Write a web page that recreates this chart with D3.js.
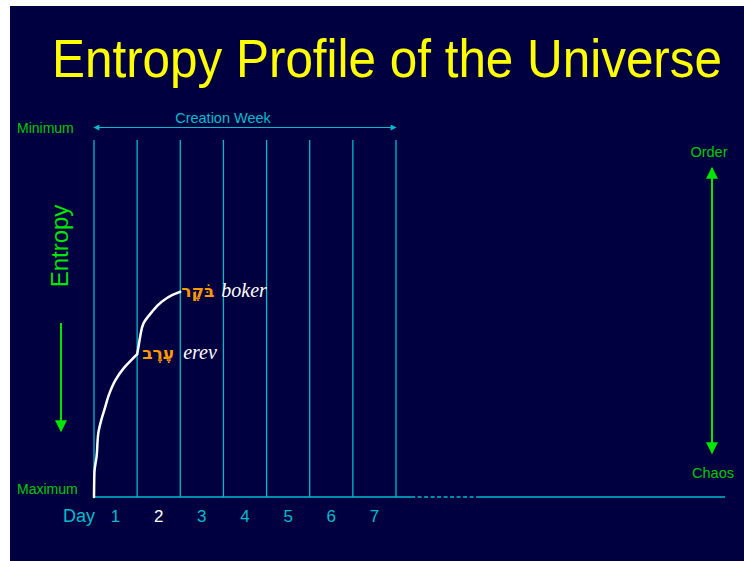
<!DOCTYPE html>
<html>
<head>
<meta charset="utf-8">
<script src="https://cdn.jsdelivr.net/npm/d3@7"></script>
<style>
  body { margin: 0; background: #fff; }
  svg text { font-family: "Liberation Sans", Arial, sans-serif; }
</style>
</head>
<body>
<div id="chart"></div>
<script>
// data
var dayNumbers = [1, 2, 3, 4, 5, 6, 7];
var dayLines = [0, 1, 2, 3, 4, 5, 6, 7];
// entropy curve: x in days, y as "order" (0 = maximum entropy, 1 = minimum)
var curveDays = [0, 0.01, 0.06, 0.1, 0.17, 0.24, 0.36, 0.5, 0.69, 0.87, 1.0,
                 1.0, 1.03, 1.07, 1.15, 1.32, 1.57, 1.82, 2.0];
var curveOrder = [0, 0.07, 0.113, 0.179, 0.216, 0.244, 0.291, 0.328, 0.361, 0.384, 0.40,
                  0.40, 0.42, 0.449, 0.487, 0.515, 0.547, 0.566, 0.575];
var curveSegment = [1, 1, 1, 1, 1, 1, 1, 1, 1, 1, 1,
                    2, 2, 2, 2, 2, 2, 2, 2];
var markerDays = [1, 2];
var markerOrder = [0.40, 0.575];
var markerHebrew = ['עֶרֶב', 'בֹּקֶר'];
var markerLatin = ['erev', 'boker'];

function buildChart(containerId) {
    var width = 744;
    var height = 561;

    var navy = '#000040';
    var cyan = '#00bccc';
    var green = '#00c800';
    var brightGreen = '#00e600';

    var svg = d3.select(containerId)
        .append('svg')
        .attr('width', width)
        .attr('height', height);

    svg.append('rect')
        .attr('x', 10).attr('y', 6)
        .attr('width', width - 10).attr('height', height - 6)
        .style('fill', navy);

    var defs = svg.append('defs');
    function arrowHead(id, color, w, h) {
        defs.append('marker')
            .attr('id', id)
            .attr('viewBox', '0 0 10 10')
            .attr('refX', 9).attr('refY', 5)
            .attr('markerUnits', 'userSpaceOnUse')
            .attr('markerWidth', w).attr('markerHeight', h)
            .attr('orient', 'auto-start-reverse')
            .append('path')
            .attr('d', 'M0,0 L10,5 L0,10 Z')
            .style('fill', color);
    }
    arrowHead('cyanArrow', cyan, 7, 6);
    arrowHead('greenArrow', brightGreen, 13, 12);

    // scales
    var x = d3.scaleLinear().domain([0, 7]).range([94, 396]);
    var y = d3.scaleLinear().domain([0, 1]).range([497, 140]);

    // title (narrow face, stretched a bit vertically)
    svg.append('text')
        .attr('transform', 'translate(52,77) scale(1,1.08)')
        .attr('textLength', 670)
        .attr('lengthAdjust', 'spacingAndGlyphs')
        .style('font-size', '50px')
        .style('fill', '#ffff00')
        .text('Entropy Profile of the Universe');

    // creation week arrow
    svg.append('line')
        .attr('x1', x(0)).attr('x2', x(7))
        .attr('y1', 127.5).attr('y2', 127.5)
        .style('stroke', cyan)
        .style('stroke-width', 1)
        .attr('marker-start', 'url(#cyanArrow)')
        .attr('marker-end', 'url(#cyanArrow)');

    svg.append('text')
        .attr('x', 223)
        .attr('y', 123)
        .attr('text-anchor', 'middle')
        .style('font-size', '14.5px')
        .style('fill', cyan)
        .text('Creation Week');

    // day grid lines
    svg.selectAll('.dayline')
        .data(dayLines)
        .enter()
        .append('line')
        .attr('class', 'dayline')
        .attr('x1', d => x(d)).attr('x2', d => x(d))
        .attr('y1', y(1)).attr('y2', y(0))
        .style('stroke', cyan)
        .style('stroke-width', 1.3);

    // baseline: solid, dashed gap, solid
    var base = svg.append('g').style('stroke', cyan).style('stroke-width', 1.3);
    base.append('line')
        .attr('x1', x(0)).attr('x2', x(7.35))
        .attr('y1', y(0)).attr('y2', y(0));
    base.append('line')
        .attr('x1', x(7.35)).attr('x2', x(8.88))
        .attr('y1', y(0)).attr('y2', y(0))
        .style('stroke-dasharray', '4,2.5');
    base.append('line')
        .attr('x1', x(8.88)).attr('x2', 725)
        .attr('y1', y(0)).attr('y2', y(0));

    // day labels
    svg.append('text')
        .attr('x', 79)
        .attr('y', 522)
        .attr('text-anchor', 'middle')
        .style('font-size', '18px')
        .style('fill', cyan)
        .text('Day');

    svg.selectAll('.daynum')
        .data(dayNumbers)
        .enter()
        .append('text')
        .attr('class', 'daynum')
        .attr('x', d => x(d - 0.5))
        .attr('y', 522)
        .attr('text-anchor', 'middle')
        .style('font-size', '17px')
        .style('fill', d => d === 2 ? '#ffffff' : cyan)
        .text(d => d);

    // left axis labels
    svg.append('text')
        .attr('x', 17).attr('y', 133)
        .style('font-size', '14px')
        .style('fill', green)
        .text('Minimum');
    svg.append('text')
        .attr('x', 17).attr('y', 494)
        .style('font-size', '14px')
        .style('fill', green)
        .text('Maximum');

    svg.append('text')
        .attr('transform', 'translate(68,246) rotate(-90)')
        .attr('text-anchor', 'middle')
        .style('font-size', '24px')
        .style('fill', brightGreen)
        .text('Entropy');

    svg.append('line')
        .attr('x1', 61).attr('x2', 61)
        .attr('y1', 323).attr('y2', 431)
        .style('stroke', brightGreen)
        .style('stroke-width', 2)
        .attr('marker-end', 'url(#greenArrow)');

    // right order / chaos arrow
    svg.append('text')
        .attr('x', 709).attr('y', 157)
        .attr('text-anchor', 'middle')
        .style('font-size', '14.5px')
        .style('fill', green)
        .text('Order');
    svg.append('text')
        .attr('x', 713).attr('y', 478)
        .attr('text-anchor', 'middle')
        .style('font-size', '14.5px')
        .style('fill', green)
        .text('Chaos');
    svg.append('line')
        .attr('x1', 712).attr('x2', 712)
        .attr('y1', 168).attr('y2', 453)
        .style('stroke', brightGreen)
        .style('stroke-width', 2)
        .attr('marker-start', 'url(#greenArrow)')
        .attr('marker-end', 'url(#greenArrow)');

    // entropy curve
    var pts = curveDays.map((d, i) => ({ day: d, order: curveOrder[i], seg: curveSegment[i] }));
    var segments = d3.groups(pts, d => d.seg).map(g => g[1]);

    var line = d3.line()
        .x(d => x(d.day))
        .y(d => y(d.order))
        .curve(d3.curveMonotoneY);

    svg.selectAll('.curve')
        .data(segments)
        .enter()
        .append('path')
        .attr('class', 'curve')
        .attr('d', line)
        .style('fill', 'none')
        .style('stroke', '#ffffff')
        .style('stroke-width', 2.5)
        .style('stroke-linecap', 'round');

    // hebrew / transliteration labels
    var marks = svg.selectAll('.mark')
        .data(markerDays)
        .enter()
        .append('g')
        .attr('class', 'mark');

    marks.append('text')
        .attr('x', (d, i) => x(d) + (i === 0 ? 5 : 1))
        .attr('y', (d, i) => y(markerOrder[i]) + 5)
        .style('font-family', '"DejaVu Sans", sans-serif')
        .style('font-size', '17px')
        .style('font-weight', 'bold')
        .style('fill', '#ff9900')
        .text((d, i) => markerHebrew[i]);

    marks.append('text')
        .attr('x', (d, i) => x(d) + (i === 0 ? 46 : 41))
        .attr('y', (d, i) => y(markerOrder[i]) + 5)
        .style('font-family', '"Liberation Serif", serif')
        .style('font-style', 'italic')
        .style('font-size', '20px')
        .style('fill', '#ffffff')
        .text((d, i) => markerLatin[i]);
}

buildChart('#chart');
</script>
</body>
</html>
